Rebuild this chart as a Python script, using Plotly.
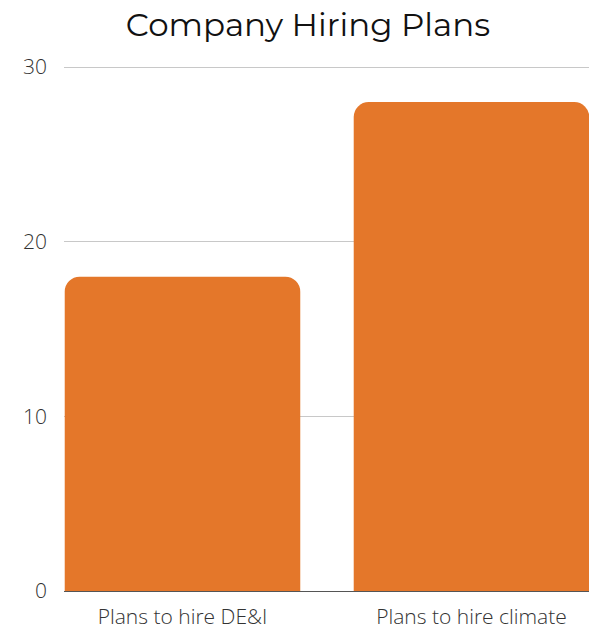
import plotly.graph_objects as go

# Survey data
categories = ["Plans to hire DE&I", "Plans to hire climate"]
values = [18, 28]
bar_positions = [0, 1]
y_ticks = [0, 10, 20, 30]

BAR_COLOR = "#E4772A"
TEXT_COLOR = "#333333"

fig = go.Figure(
    go.Bar(
        x=bar_positions,
        y=values,
        width=0.815,
        marker=dict(color=BAR_COLOR, line=dict(width=0)),
        hovertext=categories,
        hoverinfo="text+y",
    )
)

fig.update_layout(
    width=589,
    height=630,
    margin=dict(l=64, r=0, t=65, b=35),
    paper_bgcolor="white",
    plot_bgcolor="white",
    barcornerradius=15,
    showlegend=False,
    title=dict(
        text="Company Hiring Plans",
        font=dict(family="Montserrat, Lato, Inter, sans-serif", size=32.5, color="#111111"),
        xref="container",
        yref="container",
        x=308 / 589,
        xanchor="center",
        y=1 - 25 / 630,
        yanchor="middle",
    ),
    xaxis=dict(
        range=[-0.41, 1.4066],
        tickmode="array",
        tickvals=bar_positions,
        ticktext=categories,
        tickfont=dict(family="Open Sans", size=21, color=TEXT_COLOR, weight=300),
        showgrid=False,
        zeroline=False,
        showline=True,
        linecolor="#555555",
        linewidth=1,
        ticks="",
        ticklabelstandoff=7,
        fixedrange=True,
    ),
    yaxis=dict(
        range=[0, 30.12],
        tickmode="array",
        tickvals=y_ticks,
        tickfont=dict(family="Open Sans", size=21, color=TEXT_COLOR, weight=300),
        showgrid=True,
        gridcolor="#C8C8C8",
        gridwidth=1,
        zeroline=False,
        ticks="",
        ticklabelstandoff=16,
        fixedrange=True,
    ),
)

fig.write_html("out.html")
